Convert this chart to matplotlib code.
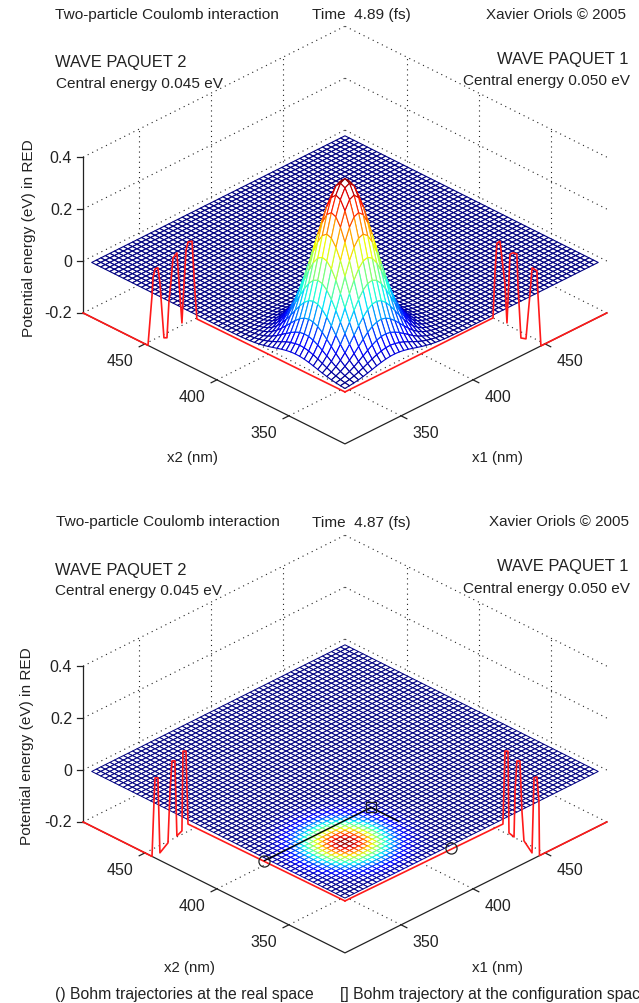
import numpy as np
import matplotlib
matplotlib.use('Agg')
import matplotlib.pyplot as plt
from mpl_toolkits.mplot3d import proj3d

plt.rcParams['font.family'] = ['Liberation Sans', 'DejaVu Sans']

# axis ranges and ticks (nm, eV)
axis_min = 311
axis_max = 493
z_min = -0.2
z_max = 0.4
nm_ticks = [350, 400, 450]
z_ticks = [-0.2, 0, 0.2, 0.4]
z_tick_labels = ['-0.2', '0', '0.2', '0.4']

# mesh nodes along x1 and x2
first_node = 313
node_step = 3.143
node_count = 57

# section of the potential bump, top plot, one value per mesh node from the first node on
peak_energy = 0.62
bump_section = [.064, .104, .161, .238, .336, .452, .580, .710, .830, .925,
                .984, .999, .968, .894, .788, .663, .533, .408, .298, .208,
                .138, .088, .053, .031, .017, .009, .004, .002, .001]

# section of the colour patch, bottom plot
patch_section = [.032, .056, .091, .144, .215, .306, .419, .544, .675, .799,
                 .902, .972, 1.00, .981, .918, .820, .698, .568, .440, .326,
                 .230, .155, .099, .061, .036, .020, .011, .005, .003, .001]

# red wave packets, top plot: x2 packet on the x1=min wall
top_x2 = [311, 413.9, 415.3, 417.3, 420.1, 421.5, 423.6, 424.3, 426.4, 427.8, 430.5, 431.9,
          433.3, 434.7, 436.8, 438.2, 439.6, 441, 443, 444.4, 445.1, 447.9, 493]
top_x2_z = [0, -.004, .1, .286, .275, .237, .031, -.048, .108, .212, .185, .092,
            .012, -.134, -.14, -.04, .064, .118, .108, .07, -.001, -.2, -.2]
# x1 packet on the x2=min wall
top_x1 = [311, 413.9, 415.3, 416.6, 418.7, 420.1, 422.2, 423.6, 424.3, 425.7, 427.8, 430.5, 431.2,
          433.3, 436.8, 439.6, 441, 444.4, 445.1, 447.2, 493]
top_x1_z = [0, 0, .177, .28, .282, .213, .108, -.046, .036, .213, .212, .2, .083,
            -.131, -.144, .022, .118, .097, .007, -.2, -.2]

# red wave packets, bottom plot
bot_x2 = [311, 420.1, 421.5, 423.6, 424.3, 427.8, 429.2, 431.2, 432.6, 434, 439.6,
          441, 443, 443.7, 445.1, 493]
bot_x2_z = [0, -.006, .271, .265, -.044, -.073, .212, .206, .087, -.117, -.171,
            .114, .108, .018, -.2, -.2]
bot_x1 = [311, 420.8, 422.2, 424.3, 425, 428.5, 429.2, 430.5, 432.6, 434, 435.4, 441,
          442.4, 444.4, 445.8, 446.2, 493]
bot_x1_z = [0, -.008, .269, .263, -.054, -.079, .096, .208, .202, .006, -.113, -.175,
            .11, .108, .012, -.2, -.2]

# Bohm trajectory markers, bottom plot
particle_x1 = 385
particle_x2 = 367
trajectory_end_x2 = 347.6


def section_to_nodes(section):
    '''
    Pad a section with zeros up to the number of mesh nodes.
    '''
    values = np.zeros(node_count)
    values[:len(section)] = section
    return values


def label_3d(ax, x1, x2, z, s, **kw):
    '''
    Text at a point of the box, placed through the axes' own projection.
    '''
    px, py, _ = proj3d.proj_transform(x1, x2, z, ax.get_proj())
    fig.text(px, py, s, transform=ax.transData, fontsize=11.5, color='#222222', va='center', **kw)


def draw_frame(ax):
    '''
    Walls, floor grid, black axes, ticks and tick labels.
    '''
    dotted = dict(color='#222222', lw=0.8, ls=(0, (1, 3.6)), zorder=1)
    for t in nm_ticks:
        ax.plot([t, t], [axis_min, axis_max], [z_min, z_min], **dotted)
        ax.plot([axis_min, axis_max], [t, t], [z_min, z_min], **dotted)
        ax.plot([t, t], [axis_max, axis_max], [z_min, z_max], **dotted)
        ax.plot([axis_max, axis_max], [t, t], [z_min, z_max], **dotted)
    for z in z_ticks:
        ax.plot([axis_min, axis_max], [axis_max, axis_max], [z, z], **dotted)
        ax.plot([axis_max, axis_max], [axis_min, axis_max], [z, z], **dotted)

    solid = dict(color='#222222', lw=0.9, zorder=2)
    ax.plot([axis_min, axis_min, axis_max], [axis_max, axis_min, axis_min], [z_min, z_min, z_min], **solid)
    ax.plot([axis_min, axis_min], [axis_max, axis_max], [z_min, z_max], **solid)

    for t in nm_ticks:
        ax.plot([t, t], [axis_min, axis_min - 4], [z_min, z_min], **solid)
        ax.plot([axis_min, axis_min - 4], [t, t], [z_min, z_min], **solid)
        label_3d(ax, t - 3, axis_min - 20.5, z_min, str(t), ha='center')
        label_3d(ax, axis_min - 20.5, t - 3, z_min, str(t), ha='center')
    for z, label in zip(z_ticks, z_tick_labels):
        ax.plot([axis_min, axis_min - 2], [axis_max, axis_max + 2], [z, z], **solid)
        label_3d(ax, axis_min - 3.8, axis_max + 3.8, z, label, ha='right')


def draw_mesh(ax, heights, colours, lw):
    '''
    White faces hide what lies behind, the edges carry the jet colours.
    '''
    nodes = first_node + node_step * np.arange(node_count)
    x1, x2 = np.meshgrid(nodes, nodes)
    surf = ax.plot_surface(x1, x2, heights, rstride=1, cstride=1, color='white', shade=False,
                           linewidth=lw, antialiased=True, zorder=3)
    cells = (colours[:-1, :-1] + colours[1:, :-1] + colours[:-1, 1:] + colours[1:, 1:]) / 4
    surf.set_edgecolor(plt.get_cmap('jet')(cells.ravel() / colours.max()))


def draw_packets(ax, x2_vals, x2_z, x1_vals, x1_z):
    ax.plot([axis_min] * len(x2_vals), x2_vals, x2_z, color='#ff1a1a', lw=1.2, zorder=5)
    ax.plot(x1_vals, [axis_min] * len(x1_vals), x1_z, color='#ff1a1a', lw=1.2, zorder=5)


def new_panel(left_px, bottom_px):
    side = 700
    ax = fig.add_axes([left_px / 639, bottom_px / 1004, side / 639, side / 1004],
                      projection='3d', proj_type='ortho', computed_zorder=False)
    ax.set_xlim(axis_min, axis_max)
    ax.set_ylim(axis_min, axis_max)
    ax.set_zlim(z_min, z_max)
    ax.set_box_aspect((370.5, 370.5, 180), zoom=0.768)
    ax.view_init(elev=30, azim=-135)
    ax.set_axis_off()
    ax.patch.set_alpha(0)
    return ax


def put(x, y, s, **kw):
    # x, y in picture pixels from the top left
    kw.setdefault('fontsize', 11.1)
    kw.setdefault('color', '#222222')
    kw.setdefault('va', 'center')
    fig.text(x / 639, 1 - (y + 1) / 1004, s, **kw)


fig = plt.figure(figsize=(6.39, 10.04), dpi=100)

# top plot
ax1 = new_panel(-14.5, 408.5)
draw_frame(ax1)
bump = section_to_nodes(bump_section)
top_heights = peak_energy * np.outer(bump, bump)
draw_mesh(ax1, top_heights, top_heights, 0.8)
draw_packets(ax1, top_x2, top_x2_z, top_x1, top_x1_z)

put(55, 14, 'Two-particle Coulomb interaction')
put(312, 14, 'Time  4.89 (fs)')
put(626, 14, 'Xavier Oriols © 2005', ha='right', fontsize=10.9)
put(55, 62, 'WAVE PAQUET 2', fontsize=11.9)
put(56, 83, 'Central energy 0.045 eV')
put(628, 59, 'WAVE PAQUET 1', ha='right', fontsize=11.9)
put(630, 80, 'Central energy 0.050 eV', ha='right')
put(193, 457, 'x2 (nm)', ha='center', fontsize=10.8)
put(497, 457, 'x1 (nm)', ha='center', fontsize=10.8)
put(29, 237, 'Potential energy (eV) in RED', rotation=90, ha='center')

# bottom plot
ax2 = new_panel(-14.5, -100.5)
draw_frame(ax2)
patch = section_to_nodes(patch_section)
draw_mesh(ax2, np.zeros((node_count, node_count)), np.outer(patch, patch), 0.72)
draw_packets(ax2, bot_x2, bot_x2_z, bot_x1, bot_x1_z)

ax2.plot([axis_min, particle_x1], [particle_x2, particle_x2], [0, 0], color='k', lw=1.0, zorder=6)
ax2.plot([particle_x1, particle_x1], [particle_x2, trajectory_end_x2], [0, 0], color='k', lw=1.0, zorder=6)
ax2.plot([axis_min], [particle_x2], [0], 'o', mfc='none', mec='#222222', ms=8, mew=0.9, zorder=7)
ax2.plot([particle_x1], [axis_min], [0], 'o', mfc='none', mec='#222222', ms=8, mew=0.9, zorder=7)
ax2.plot([particle_x1], [particle_x2], [0], 's', mfc='none', mec='#222222', ms=7, mew=0.9, zorder=7)

put(56, 521, 'Two-particle Coulomb interaction')
put(312, 522, 'Time  4.87 (fs)')
put(629, 521, 'Xavier Oriols © 2005', ha='right', fontsize=10.9)
put(55, 569, 'WAVE PAQUET 2', fontsize=11.9)
put(55, 590, 'Central energy 0.045 eV')
put(628, 566, 'WAVE PAQUET 1', ha='right', fontsize=11.9)
put(630, 588, 'Central energy 0.050 eV', ha='right')
put(190, 967, 'x2 (nm)', ha='center', fontsize=10.8)
put(498, 967, 'x1 (nm)', ha='center', fontsize=10.8)
put(27, 745, 'Potential energy (eV) in RED', rotation=90, ha='center')
put(55, 994, '() Bohm trajectories at the real space', fontsize=11.3)
put(340, 994, '[] Bohm trajectory at the configuration space', fontsize=11.3)

fig.savefig('out.png', dpi=100)
